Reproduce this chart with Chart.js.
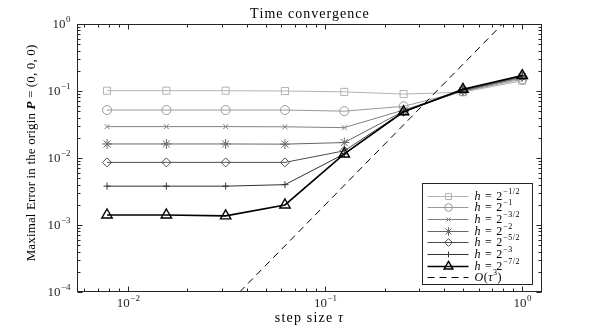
<!DOCTYPE html>
<html lang="en">
<head>
<meta charset="UTF-8">
<title>Time convergence</title>
<script src="https://cdn.jsdelivr.net/npm/chart.js"></script>
<style>
  html, body { margin: 0; padding: 0; background: #fff; }
</style>
</head>
<body>
<canvas id="errChart" width="598" height="329"></canvas>
<script>
// step sizes tau and maximal errors, one array per mesh size h
const stepSizes = [1/128, 1/64, 1/32, 1/16, 1/8, 1/4, 1/2, 1];
const errH1 = [0.101, 0.101, 0.101, 0.100, 0.097, 0.090, 0.096, 0.142];   // h = 2^-1/2
const errH2 = [0.052, 0.052, 0.052, 0.052, 0.050, 0.059, 0.099, 0.150];   // h = 2^-1
const errH3 = [0.0294, 0.0294, 0.0294, 0.0292, 0.0284, 0.052, 0.100, 0.158]; // h = 2^-3/2
const errH4 = [0.0162, 0.0162, 0.0162, 0.0161, 0.0170, 0.050, 0.101, 0.163]; // h = 2^-2
const errH5 = [0.0086, 0.0086, 0.0086, 0.0086, 0.0128, 0.049, 0.103, 0.166]; // h = 2^-5/2
const errH6 = [0.0038, 0.0038, 0.0038, 0.0040, 0.0115, 0.049, 0.105, 0.168]; // h = 2^-3
const errH7 = [0.00141, 0.00141, 0.00137, 0.00199, 0.0115, 0.049, 0.106, 0.170]; // h = 2^-7/2
// reference slope O(tau^3), read off where it enters and leaves the axes
const refTau = [0.0368, 0.794];
const refErr = [1e-4, 1];

const hExponents = ['\u22121/2', '\u22121', '\u22123/2', '\u22122', '\u22125/2', '\u22123', '\u22127/2'];
const xTickExps = [-2, -1, 0];
const yTickExps = [0, -1, -2, -3, -4];

const series = [errH1, errH2, errH3, errH4, errH5, errH6, errH7];
const grays = ['#b3b3b3', '#999999', '#808080', '#666666', '#4d4d4d', '#333333', '#000000'];
const styles = ['rect', 'circle', 'crossRot', 'star', 'rectRot', 'cross', 'triangle'];
const radii = [5, 4.5, 3.5, 5, 4.5, 3.5, 6];

const axisColor = '#262626';
const serif = '"Liberation Serif", "DejaVu Serif", serif';

const datasets = series.map(function (vals, i) {
    return {
        label: 'h = 2^' + hExponents[i],
        data: stepSizes.map((t, k) => ({ x: t, y: vals[k] })),
        borderColor: grays[i],
        borderWidth: i === 6 ? 1.6 : 1,
        pointStyle: styles[i],
        pointRadius: radii[i],
        pointBorderColor: grays[i],
        pointBackgroundColor: 'rgba(0,0,0,0)',
        pointBorderWidth: i === 6 ? 1.4 : 1,
        tension: 0,
        fill: false,
        order: 10 - i
    };
});
datasets.push({
    label: 'O(tau^3)',
    data: refTau.map((t, k) => ({ x: t, y: refErr[k] })),
    borderColor: '#000',
    borderWidth: 1,
    borderDash: [7, 5],
    pointRadius: 0,
    fill: false,
    order: 0
});

function drawPow(ctx, base, exp, x, y, align, size) {
    ctx.font = size + 'px ' + serif;
    const wb = ctx.measureText(base).width;
    ctx.font = Math.round(size * 0.7) + 'px ' + serif;
    const we = ctx.measureText(exp).width;
    let x0 = x;
    if (align === 'center') x0 = x - (wb + we) / 2;
    if (align === 'right') x0 = x - (wb + we);
    ctx.textAlign = 'left';
    ctx.textBaseline = 'middle';
    ctx.font = size + 'px ' + serif;
    ctx.fillText(base, x0, y);
    ctx.font = Math.round(size * 0.7) + 'px ' + serif;
    ctx.fillText(exp, x0 + wb + 0.5, y - size * 0.42);
}

// text runs with their own font; spacing is extra letter spacing in px
function drawRuns(ctx, runs, x, y, align, spacing) {
    spacing = spacing || 0;
    let total = 0;
    runs.forEach(r => {
        ctx.font = r.font;
        r.w = ctx.measureText(r.text).width + spacing * r.text.length + (r.gap || 0);
        total += r.w;
    });
    let cx = align === 'center' ? x - total / 2 : x;
    ctx.textAlign = 'left';
    runs.forEach(r => {
        ctx.font = r.font;
        let px = cx + (r.gap || 0);
        for (const ch of r.text) {
            ctx.fillText(ch, px, y + (r.dy || 0));
            px += ctx.measureText(ch).width + spacing;
        }
        cx += r.w;
    });
}

const decorations = {
    id: 'decorations',
    afterDatasetsDraw(chart) {
        const ctx = chart.ctx;
        const a = chart.chartArea;
        const xs = chart.scales.x, ys = chart.scales.y;
        ctx.save();
        ctx.strokeStyle = axisColor;
        ctx.fillStyle = axisColor;
        ctx.lineWidth = 1;

        // box
        const L = Math.round(a.left) + 0.5, R = Math.round(a.right) - 0.5;
        const T = Math.round(a.top) + 0.5, B = Math.round(a.bottom) - 0.5;
        ctx.strokeRect(L, T, R - L, B - T);

        // ticks, inward on all four sides
        ctx.beginPath();
        for (let e = -3; e <= 0; e++) {
            for (let m = 1; m <= 9; m++) {
                const v = m * Math.pow(10, e);
                if (v < xs.min || v > xs.max) continue;
                const px = Math.round(xs.getPixelForValue(v)) + 0.5;
                const len = m === 1 ? 5 : 3;
                ctx.moveTo(px, B); ctx.lineTo(px, B - len);
                ctx.moveTo(px, T); ctx.lineTo(px, T + len);
            }
        }
        for (let e = -4; e <= 0; e++) {
            for (let m = 1; m <= 9; m++) {
                const v = m * Math.pow(10, e);
                if (v < ys.min || v > ys.max) continue;
                const py = Math.round(ys.getPixelForValue(v)) + 0.5;
                const len = m === 1 ? 5 : 3;
                ctx.moveTo(L, py); ctx.lineTo(L + len, py);
                ctx.moveTo(R, py); ctx.lineTo(R - len, py);
            }
        }
        ctx.stroke();

        // tick labels
        xTickExps.forEach(e => {
            drawPow(ctx, '10', e < 0 ? '\u2212' + (-e) : String(e), xs.getPixelForValue(Math.pow(10, e)), 304, 'center', 13);
        });
        yTickExps.forEach(e => {
            drawPow(ctx, '10', e < 0 ? '\u2212' + (-e) : String(e), 70, ys.getPixelForValue(Math.pow(10, e)) + 1, 'right', 13);
        });

        // title and axis titles
        ctx.fillStyle = '#000';
        ctx.textBaseline = 'middle';
        drawRuns(ctx, [{ text: 'Time convergence', font: '14px ' + serif }], (a.left + a.right) / 2, 14, 'center', 1);
        drawRuns(ctx, [
            { text: 'step size ', font: '14px ' + serif },
            { text: '\u03c4', font: 'italic 14px ' + serif }
        ], (a.left + a.right) / 2, 318, 'center', 1.2);
        ctx.save();
        ctx.translate(32, 153);
        ctx.rotate(-Math.PI / 2);
        drawRuns(ctx, [
            { text: 'Maximal Error in the origin ', font: '13px ' + serif },
            { text: 'P', font: 'italic bold 13px ' + serif },
            { text: ' = (0, 0, 0)', font: '13px ' + serif }
        ], 0, 0, 'center', 0.15);
        ctx.restore();

        // legend box
        const lx = 422.5, ly = 183.5, lw = 110, lh = 101;
        ctx.fillStyle = '#fff';
        ctx.fillRect(lx, ly, lw, lh);
        ctx.strokeStyle = axisColor;
        ctx.strokeRect(lx, ly, lw, lh);
        const rowH = 11.7;
        for (let i = 0; i < 8; i++) {
            const ry = Math.round(ly + 12 + i * rowH) + 0.5;
            const ds = chart.data.datasets[i];
            ctx.strokeStyle = ds.borderColor;
            ctx.lineWidth = ds.borderWidth;
            ctx.setLineDash(ds.borderDash || []);
            ctx.beginPath();
            ctx.moveTo(lx + 5, ry); ctx.lineTo(lx + 46, ry);
            ctx.stroke();
            ctx.setLineDash([]);
            if (i < 7 && Chart.helpers && Chart.helpers.drawPoint) {
                ctx.fillStyle = 'rgba(0,0,0,0)';
                ctx.lineWidth = ds.pointBorderWidth;
                Chart.helpers.drawPoint(ctx, { pointStyle: ds.pointStyle, radius: ds.pointRadius * 0.85, rotation: 0, borderWidth: ds.pointBorderWidth }, lx + 26, ry);
            }
            ctx.fillStyle = '#000';
            ctx.textBaseline = 'middle';
            if (i < 7) {
                drawRuns(ctx, [
                    { text: 'h', font: 'italic 12px ' + serif },
                    { text: '=', font: '12px ' + serif, gap: 4 },
                    { text: '2', font: '12px ' + serif, gap: 4 },
                    { text: hExponents[i], font: '8px ' + serif, dy: -5, gap: 0.5 }
                ], lx + 52, ry, 'left', 0.5);
            } else {
                drawRuns(ctx, [
                    { text: 'O', font: 'italic 12px ' + serif },
                    { text: '(', font: '12px ' + serif },
                    { text: '\u03c4', font: 'italic 12px ' + serif },
                    { text: '3', font: '8px ' + serif, dy: -5 },
                    { text: ')', font: '12px ' + serif }
                ], lx + 52, ry, 'left', 0.5);
            }
        }
        ctx.restore();
    }
};

new Chart(document.getElementById('errChart').getContext('2d'), {
    type: 'line',
    data: { datasets: datasets },
    options: {
        responsive: false,
        animation: false,
        devicePixelRatio: 1,
        layout: { padding: { left: 77, right: 56, top: 24, bottom: 37 } },
        plugins: { legend: { display: false }, tooltip: { enabled: false }, title: { display: false } },
        scales: {
            x: { type: 'logarithmic', min: 0.0055, max: 1.26, display: false },
            y: { type: 'logarithmic', min: 1e-4, max: 1, display: false }
        }
    },
    plugins: [decorations]
});
</script>
</body>
</html>
